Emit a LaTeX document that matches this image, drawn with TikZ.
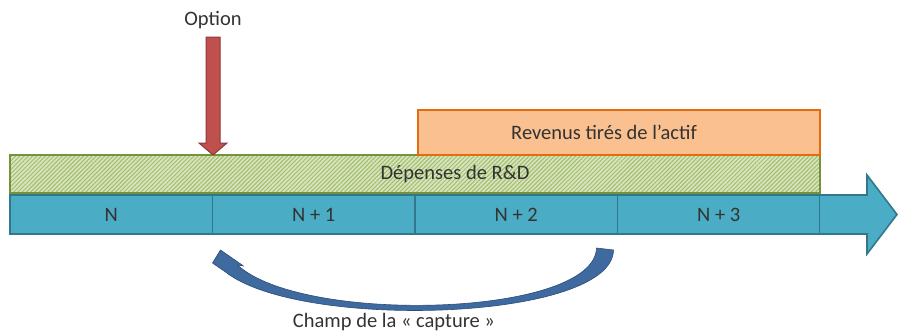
\documentclass[tikz,border=0pt]{standalone}
\usepackage{fontspec}
\setmainfont{Carlito}
\usetikzlibrary{calc,arrows.meta,positioning,patterns.meta}
\definecolor{cellblue}{HTML}{4BACC6}
\definecolor{cellline}{HTML}{31788C}
\definecolor{rdgreen}{HTML}{D7E4BD}
\definecolor{rdhatch}{HTML}{A3BD6C}
\definecolor{rdline}{HTML}{76923C}
\definecolor{revorange}{HTML}{FAC090}
\definecolor{revline}{HTML}{E46C0A}
\definecolor{optred}{HTML}{C0504D}
\definecolor{optline}{HTML}{8C3836}
\definecolor{capblue}{HTML}{3F6AA0}
\definecolor{capline}{HTML}{2C4D75}
\tikzset{
  txt/.style={font=\fontsize{20.5}{23}\selectfont, text=black!80},
  cell/.style={txt, draw=cellline, fill=cellblue, line width=1.6pt, minimum width=202.5pt, minimum height=39pt, inner sep=0pt, outer sep=0pt},
  rdbox/.style={draw=rdline, line width=1.6pt, minimum width=810pt, minimum height=38pt, inner sep=0pt, outer sep=0pt,
    preaction={fill=rdgreen}, pattern={Lines[angle=45,distance=3pt,line width=1pt]}, pattern color=rdhatch},
  revbox/.style={draw=revline, fill=revorange, line width=1.6pt, minimum width=402pt, minimum height=45pt, inner sep=0pt, outer sep=0pt},
  optarrow/.style={draw=optline, fill=optred, line width=1pt, line join=miter},
  caparrow/.style={draw=capline, fill=capblue, line width=0.6pt, line join=round}
}
\begin{document}
\begin{tikzpicture}[x=1pt, y=-1pt]
  \useasboundingbox (0,0) rectangle (898,333);

  % time line
  \node [cell] (n0) at (111.25,214.5) {N};
  \node [cell, right=0pt of n0] (n1) {N + 1};
  \node [cell, right=0pt of n1] (n2) {N + 2};
  \node [cell, right=0pt of n2] (n3) {N + 3};
  \filldraw [cellblue, draw=cellline, line width=1.6pt, line join=miter]
    (n3.north east) -- ++(47,0) -- ++(0,-20) -- ($(n3.east)+(77,0)$) -- ($(n3.south east)+(47,20)$) -- ++(0,-20) -- (n3.south east);

  % bars
  \node [rdbox, label={[txt, xshift=40pt]center:Dépenses de R\&D}] (rd) at (415,174) {};
  \node [revbox, anchor=south east, label={[txt, xshift=-15pt]center:Revenus tirés de l’actif}] (rev) at (rd.north east) {};

  % option
  \node [txt] (option) at (213,20) {Option};
  \coordinate (opttip) at (option.south |- rd.north);
  \draw [optarrow] (opttip) -- ++(-14,-12) -- ++(7,0) -- ++(0,-106) -- ++(14,0) -- ++(0,106) -- ++(7,0) -- cycle;

  % capture
  \node [txt] (champ) at (394,322) {Champ de la «~capture~»};
  \coordinate (capfrom) at ($(n2.south east)+(-13,15)$);
  \coordinate (capto) at ($(n1.south west)+(0,29)$);
  \draw [caparrow] ($(capfrom)+(-8,-1)$) .. controls ($(capfrom)+(-10,68)$) and ($(capto)+(90,62)$) .. ($(capto)+(25,2)$)
    -- ($(capto)+(31,3)$) -- ($(capto)+(8,-13)$) -- (capto) -- ($(capto)+(13,9)$)
    .. controls ($(capto)+(88,68)$) and ($(capfrom)+(8,72)$) .. ($(capfrom)+(9,1)$) -- cycle;
\end{tikzpicture}
\end{document}
